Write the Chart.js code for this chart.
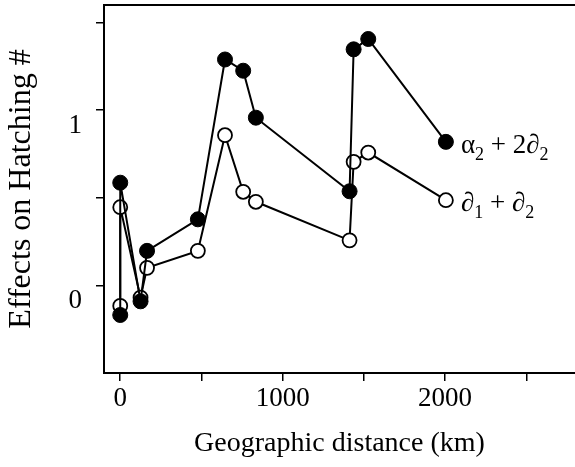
<!DOCTYPE html>
<html>
<head>
<meta charset="utf-8">
<script src="https://cdn.jsdelivr.net/npm/chart.js@4"></script>
<style>
  html, body { margin: 0; padding: 0; background: #fff; }
  #wrap { width: 575px; height: 467px; position: relative; }
</style>
</head>
<body>
<div id="wrap"><canvas id="c" width="575" height="467"></canvas></div>
<script>
// ---- data ----
const distanceKm = [0, 0, 125, 165, 478, 645, 757, 835, 1412, 1437, 1527, 2005];
const alphaSeries = [-0.169, 0.586, -0.091, 0.197, 0.377, 1.289, 1.225, 0.957, 0.537, 1.347, 1.406, 0.819];
const deltaSeries = [-0.117, 0.446, -0.070, 0.100, 0.197, 0.857, 0.534, 0.477, 0.257, 0.705, 0.758, 0.486];
const xTicks = [0, 500, 1000, 1500, 2000, 2500];
const xTickLabels = { 0: '0', 1000: '1000', 2000: '2000' };
const yTicks = [0, 0.5, 1, 1.5];
const yTickLabels = { 0: '0', 1: '1' };
const seriesNames = ['α2 + 2∂2', '∂1 + ∂2'];

const SERIF = '"Liberation Serif", "Times New Roman", serif';

function pts(ys) { return distanceKm.map((d, i) => ({ x: d, y: ys[i] })); }

function drawMath(ctx, parts, x, y) {
  let cx = x;
  for (const p of parts) {
    ctx.font = (p.sub ? '18px ' : '27px ') + SERIF;
    ctx.fillText(p.t, cx, y + (p.sub ? 7 : 0));
    cx += ctx.measureText(p.t).width;
  }
}
function parseMath(s) {
  const out = [];
  for (let i = 0; i < s.length; i++) {
    const ch = s[i];
    const prev = s[i - 1];
    const isSub = /[0-9]/.test(ch) && (prev === 'α' || prev === '∂');
    out.push({ t: ch, sub: isSub });
  }
  return out;
}

function zeroPad(s) { s.paddingTop = 0; s.paddingBottom = 0; s.paddingLeft = 0; s.paddingRight = 0; }

const extras = {
  id: 'extras',
  afterDraw(chart) {
    const { ctx, chartArea } = chart;
    ctx.save();
    ctx.strokeStyle = '#000';
    ctx.lineWidth = 2;
    ctx.beginPath();
    ctx.moveTo(chartArea.left - 1, chartArea.top);
    ctx.lineTo(chartArea.right, chartArea.top);
    ctx.stroke();
    ctx.fillStyle = '#000';
    ctx.textBaseline = 'alphabetic';
    ctx.textAlign = 'left';
    chart.data.datasets.forEach((ds, i) => {
      const meta = chart.getDatasetMeta(i);
      const last = meta.data[meta.data.length - 1];
      drawMath(ctx, parseMath(seriesNames[i]), last.x + 15, last.y + 11);
    });
    ctx.restore();
  }
};

new Chart(document.getElementById('c'), {
  type: 'scatter',
  data: {
    datasets: [
      {
        label: seriesNames[0],
        data: pts(alphaSeries),
        showLine: true,
        borderColor: '#000',
        borderWidth: 2,
        pointRadius: 7.5,
        pointBackgroundColor: '#000',
        pointBorderColor: '#000',
        pointBorderWidth: 1,
        tension: 0,
        clip: false
      },
      {
        label: seriesNames[1],
        data: pts(deltaSeries),
        showLine: true,
        borderColor: '#000',
        borderWidth: 2,
        pointRadius: 7,
        pointBackgroundColor: '#fff',
        pointBorderColor: '#000',
        pointBorderWidth: 1.8,
        tension: 0,
        clip: false
      }
    ]
  },
  options: {
    responsive: false,
    animation: false,
    devicePixelRatio: 1,
    layout: { autoPadding: false, padding: { top: 5, right: 0, bottom: 0, left: 0 } },
    plugins: { legend: { display: false }, tooltip: { enabled: false } },
    scales: {
      x: {
        type: 'linear',
        min: -100,
        max: 2800,
        afterFit(s) { s.height = 94; zeroPad(s); },
        afterBuildTicks(s) { s.ticks = xTicks.map(v => ({ value: v })); },
        grid: { display: true, drawOnChartArea: false, drawTicks: true, tickLength: 8, color: '#000', lineWidth: 1.5 },
        border: { display: true, color: '#000', width: 2 },
        ticks: {
          color: '#000',
          font: { family: SERIF, size: 27 },
          padding: 2,
          maxRotation: 0,
          autoSkip: false,
          callback: (v) => (xTickLabels[v] !== undefined ? xTickLabels[v] : '')
        },
        title: {
          display: true,
          text: 'Geographic distance (km)',
          color: '#000',
          font: { family: SERIF, size: 28 },
          padding: { top: 0, bottom: 7 }
        }
      },
      y: {
        type: 'linear',
        min: -0.5,
        max: 1.6,
        afterFit(s) { s.width = 104; zeroPad(s); },
        afterBuildTicks(s) { s.ticks = yTicks.map(v => ({ value: v })); },
        grid: { display: true, drawOnChartArea: false, drawTicks: true, tickLength: 8, color: '#000', lineWidth: 1.5 },
        border: { display: true, color: '#000', width: 2 },
        ticks: {
          color: '#000',
          font: { family: SERIF, size: 27 },
          padding: 14,
          labelOffset: 16,
          autoSkip: false,
          callback: (v) => (yTickLabels[v] !== undefined ? yTickLabels[v] : '')
        },
        title: {
          display: true,
          text: 'Effects on Hatching #',
          color: '#000',
          font: { family: SERIF, size: 32 },
          padding: { top: 2, bottom: 0 }
        }
      }
    }
  },
  plugins: [extras]
});
</script>
</body>
</html>
